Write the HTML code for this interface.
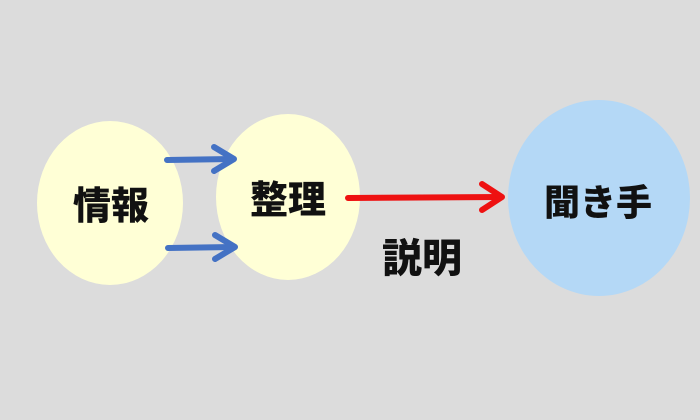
<!DOCTYPE html>
<html><head><meta charset="utf-8"><style>
html,body{margin:0;padding:0;background:#dcdcdc;}
svg{display:block;}
text{font-family:"Liberation Sans","Noto Sans CJK JP",sans-serif;font-weight:900;fill:#111;}
</style></head><body>
<svg width="700" height="420" viewBox="0 0 700 420">
<rect width="700" height="420" fill="#dcdcdc"/>
<ellipse cx="110" cy="203" rx="73" ry="82" fill="#ffffd6"/>
<ellipse cx="288" cy="197" rx="72" ry="83" fill="#ffffd6"/>
<ellipse cx="599" cy="198" rx="91" ry="98" fill="#b4d8f6"/>
<g stroke="#4472c4" stroke-width="6" fill="none" stroke-linecap="round" stroke-linejoin="round">
<line x1="167" y1="160" x2="232" y2="159"/>
<polyline points="214,147 234,159 214,171"/>
<line x1="168" y1="248" x2="233" y2="247"/>
<polyline points="215,235 235,247 215,259"/>
</g>
<g stroke="#ee1111" stroke-width="6" fill="none" stroke-linecap="round" stroke-linejoin="round">
<line x1="348" y1="198" x2="500" y2="197"/>
<polyline points="482,184 502,197 482,210"/>
</g>
<text x="111" y="219" font-size="38" text-anchor="middle">情報</text>
<text x="288" y="213" font-size="38" text-anchor="middle">整理</text>
<text x="422" y="272" font-size="40" text-anchor="middle">説明</text>
<text x="598" y="215" font-size="36" text-anchor="middle">聞き手</text>
</svg>
</body></html>
